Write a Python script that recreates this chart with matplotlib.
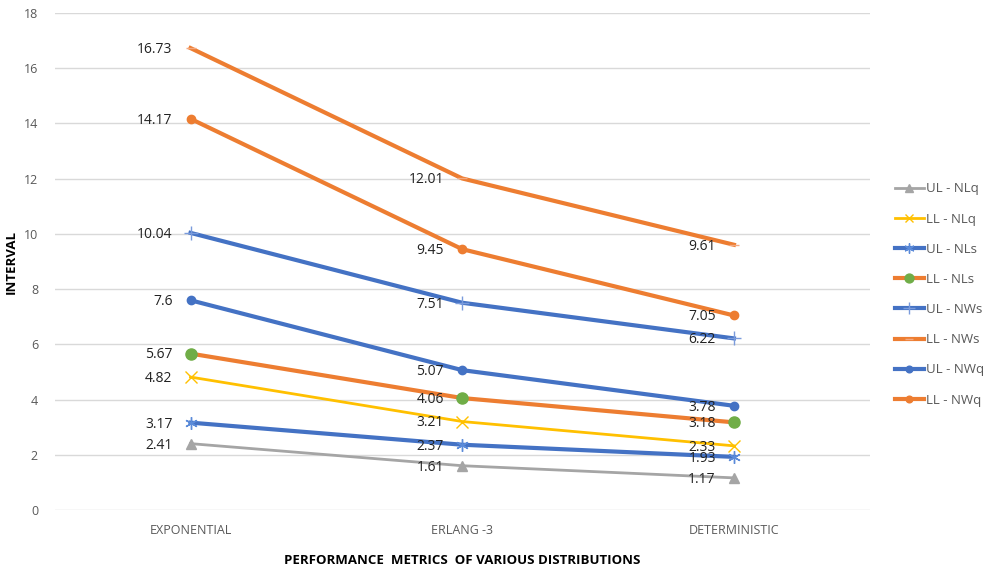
import matplotlib
matplotlib.use("Agg")
import matplotlib.pyplot as plt

plt.rcParams['font.family'] = ['Open Sans', 'DejaVu Sans']

categories = ["EXPONENTIAL", "ERLANG -3", "DETERMINISTIC"]

ul_nlq = [2.41, 1.61, 1.17]
ll_nlq = [4.82, 3.21, 2.33]
ul_nls = [3.17, 2.37, 1.93]
ll_nls = [5.67, 4.06, 3.18]
ul_nws = [10.04, 7.51, 6.22]
ll_nws = [16.73, 12.01, 9.61]
ul_nwq = [7.6, 5.07, 3.78]
ll_nwq = [14.17, 9.45, 7.05]

blue = "#4472C4"
orange = "#ED7D31"
gray = "#A5A5A5"
yellow = "#FFC000"
green = "#70AD47"

series = [
    ("UL - NLq", ul_nlq, dict(color=gray, lw=2, marker="^", ms=7)),
    ("LL - NLq", ll_nlq, dict(color=yellow, lw=2, marker="x", ms=8, mew=1)),
    ("UL - NLs", ul_nls, dict(color=blue, lw=3, marker=(6, 2, 0), ms=9, mew=1, mec="#5B8BD9")),
    ("LL - NLs", ll_nls, dict(color=orange, lw=3, marker="o", ms=8, mfc=green, mec=green)),
    ("UL - NWs", ul_nws, dict(color=blue, lw=3, marker="+", ms=10, mew=1, mec="#7A9BDC")),
    ("LL - NWs", ll_nws, dict(color=orange, lw=3, marker="_", ms=7, mew=1, mec="#F4A980")),
    ("UL - NWq", ul_nwq, dict(color=blue, lw=3, marker="o", ms=6)),
    ("LL - NWq", ll_nwq, dict(color=orange, lw=3, marker="o", ms=6)),
]

fig = plt.figure(figsize=(9.94, 5.65), dpi=100)
ax = fig.add_axes([0.055, 0.097, 0.82, 0.88])

x = range(len(categories))
for name, vals, style in series:
    ax.plot(x, vals, label=name, **style)
    for xi, v in zip(x, vals):
        ax.annotate(f"{v:g}", (xi, v), xytext=(-13, -1), textcoords="offset points",
                    ha="right", va="center", fontsize=10, color="#222222")

ax.set_xlim(-0.5, 2.5)
ax.set_ylim(0, 18)
ax.set_yticks(range(0, 19, 2))
ax.set_xticks(list(x))
ax.set_xticklabels(categories)
ax.grid(axis="y", color="#D9D9D9", lw=1)
ax.set_axisbelow(True)
for s in ax.spines.values():
    s.set_visible(False)
ax.tick_params(axis="both", length=0, colors="#595959", labelsize=9)
ax.tick_params(axis="y", pad=12)
ax.tick_params(axis="x", pad=10)

ax.set_xlabel("PERFORMANCE  METRICS  OF VARIOUS DISTRIBUTIONS", fontsize=9.5,
              fontweight="bold", labelpad=12)
ax.set_ylabel("INTERVAL", fontsize=9.5, fontweight="bold", labelpad=4)

fig.legend(loc="upper left", bbox_to_anchor=(0.9, 0.677), frameon=False,
           fontsize=9.5, labelcolor="#595959", handlelength=2.2, handletextpad=0.2,
           labelspacing=1.3, markerscale=0.8, borderaxespad=0, borderpad=0)

fig.savefig("out.png", dpi=100)
